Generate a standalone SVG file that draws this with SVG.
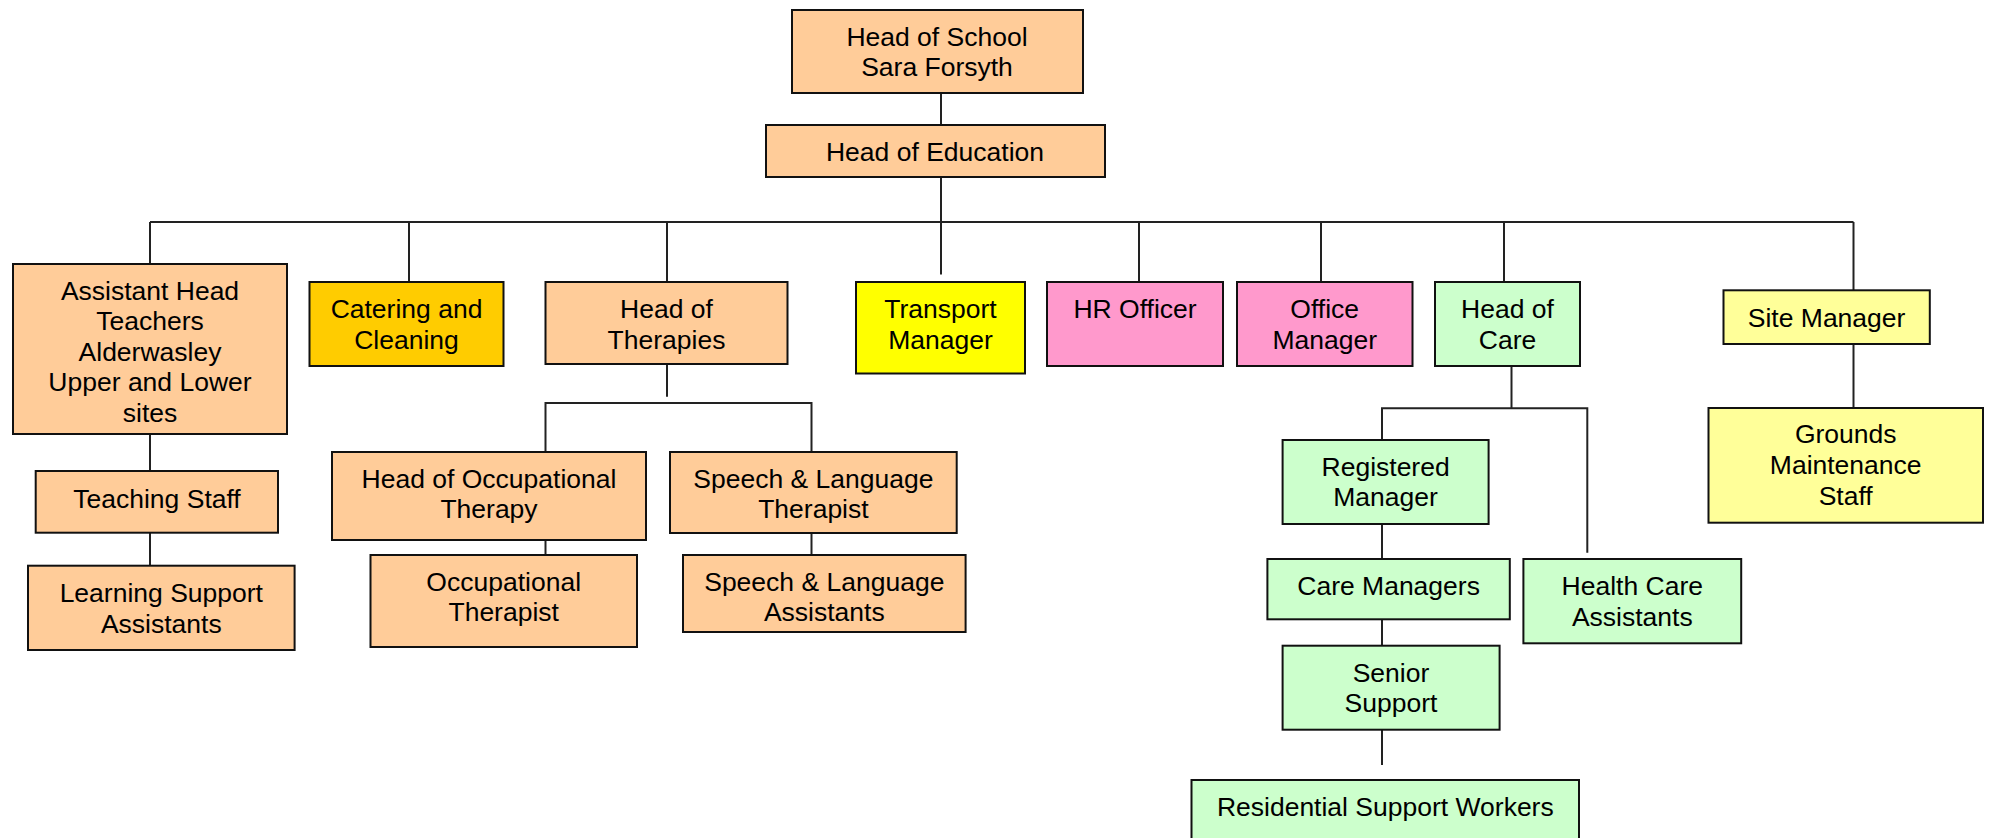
<svg xmlns="http://www.w3.org/2000/svg" width="1991" height="838" viewBox="0 0 1991 838">
  <style>
    .box { stroke: #111; stroke-width: 2; }
    .peach { fill: #FFCC99; }
    .gold { fill: #FFCC00; }
    .yellow { fill: #FFFF00; }
    .pink { fill: #FF99CC; }
    .green { fill: #CCFFCC; }
    .pale { fill: #FFFF99; }
    text { font-family: "Liberation Sans", Arial, sans-serif; font-size: 26.5px; fill: #000; text-anchor: middle; }
    .wire { stroke: #222; stroke-width: 2; fill: none; }
  </style>
  <rect width="1991" height="838" fill="#fff"/>

  <!-- reporting lines -->
  <g id="connectors" class="wire">
    <path d="M941 93 V125"/>
    <path d="M941 177 V274.5"/>
    <path d="M150 222 H1853.5"/>
    <path d="M150 222 V264"/>
    <path d="M409 222 V282"/>
    <path d="M667 222 V282"/>
    <path d="M1139 222 V282"/>
    <path d="M1321 222 V282"/>
    <path d="M1504 222 V282"/>
    <path d="M1853.5 222 V290"/>
    <path d="M150 434 V471"/>
    <path d="M150 532.5 V566"/>
    <path d="M667 364 V396.7"/>
    <path d="M545.5 452 V403 H811.5 V452"/>
    <path d="M545.5 540 V555"/>
    <path d="M811.5 533 V555"/>
    <path d="M1511.5 366 V408.3"/>
    <path d="M1382 440 V408.3 H1587.3 V552.7"/>
    <path d="M1382 524 V559"/>
    <path d="M1382 619.3 V645.7"/>
    <path d="M1382 729.7 V765"/>
    <path d="M1853.5 344 V408"/>
  </g>

  <g id="head-of-school">
    <rect class="box peach" x="792" y="10" width="291" height="83"/>
    <text x="937" y="45.5">Head of School</text>
    <text x="937" y="76">Sara Forsyth</text>
  </g>
  <g id="head-of-education">
    <rect class="box peach" x="766" y="125" width="339" height="52"/>
    <text x="935" y="160.5">Head of Education</text>
  </g>
  <g id="assistant-head-teachers">
    <rect class="box peach" x="13" y="264" width="274" height="170"/>
    <text x="150" y="299.5">Assistant Head</text>
    <text x="150" y="330">Teachers</text>
    <text x="150" y="360.5">Alderwasley</text>
    <text x="150" y="391">Upper and Lower</text>
    <text x="150" y="421.5">sites</text>
  </g>
  <g id="catering-cleaning">
    <rect class="box gold" x="309.5" y="282" width="194" height="84"/>
    <text x="406.5" y="318">Catering and</text>
    <text x="406.5" y="348.5">Cleaning</text>
  </g>
  <g id="head-of-therapies">
    <rect class="box peach" x="545.5" y="282" width="242" height="82"/>
    <text x="666.5" y="318">Head of</text>
    <text x="666.5" y="348.5">Therapies</text>
  </g>
  <g id="transport-manager">
    <rect class="box yellow" x="856" y="282" width="169" height="91.5"/>
    <text x="940.5" y="318">Transport</text>
    <text x="940.5" y="348.5">Manager</text>
  </g>
  <g id="hr-officer">
    <rect class="box pink" x="1047" y="282" width="176" height="84"/>
    <text x="1135" y="318">HR Officer</text>
  </g>
  <g id="office-manager">
    <rect class="box pink" x="1237" y="282" width="175.5" height="84"/>
    <text x="1324.7" y="318">Office</text>
    <text x="1324.7" y="348.5">Manager</text>
  </g>
  <g id="head-of-care">
    <rect class="box green" x="1435" y="282" width="145" height="84"/>
    <text x="1507.5" y="318">Head of</text>
    <text x="1507.5" y="348.5">Care</text>
  </g>
  <g id="site-manager">
    <rect class="box pale" x="1723.5" y="290.3" width="206.3" height="53.7"/>
    <text x="1826.6" y="326.5">Site Manager</text>
  </g>
  <g id="teaching-staff">
    <rect class="box peach" x="35.7" y="471" width="242.3" height="61.7"/>
    <text x="157" y="507.5">Teaching Staff</text>
  </g>
  <g id="learning-support-assistants">
    <rect class="box peach" x="28" y="565.7" width="266.6" height="84.3"/>
    <text x="161.3" y="602.3">Learning Support</text>
    <text x="161.3" y="632.5">Assistants</text>
  </g>
  <g id="head-of-occupational-therapy">
    <rect class="box peach" x="332" y="452" width="314" height="88"/>
    <text x="489" y="487.7">Head of Occupational</text>
    <text x="489" y="518.3">Therapy</text>
  </g>
  <g id="occupational-therapist">
    <rect class="box peach" x="370.5" y="555" width="266.5" height="92"/>
    <text x="503.7" y="590.7">Occupational</text>
    <text x="503.7" y="621.3">Therapist</text>
  </g>
  <g id="speech-language-therapist">
    <rect class="box peach" x="670" y="452" width="286.7" height="81"/>
    <text x="813.4" y="487.7">Speech &amp; Language</text>
    <text x="813.4" y="518.3">Therapist</text>
  </g>
  <g id="speech-language-assistants">
    <rect class="box peach" x="683" y="555" width="282.6" height="77"/>
    <text x="824.3" y="590.7">Speech &amp; Language</text>
    <text x="824.3" y="620.7">Assistants</text>
  </g>
  <g id="registered-manager">
    <rect class="box green" x="1282.6" y="440" width="206" height="84"/>
    <text x="1385.6" y="475.7">Registered</text>
    <text x="1385.6" y="505.7">Manager</text>
  </g>
  <g id="care-managers">
    <rect class="box green" x="1267.4" y="559" width="242.4" height="60.3"/>
    <text x="1388.6" y="595">Care Managers</text>
  </g>
  <g id="health-care-assistants">
    <rect class="box green" x="1523.4" y="559" width="217.8" height="84.3"/>
    <text x="1632.3" y="595">Health Care</text>
    <text x="1632.3" y="625.7">Assistants</text>
  </g>
  <g id="senior-support">
    <rect class="box green" x="1282.6" y="645.7" width="217" height="84"/>
    <text x="1391" y="681.7">Senior</text>
    <text x="1391" y="712.3">Support</text>
  </g>
  <g id="residential-support-workers">
    <rect class="box green" x="1191.5" y="780" width="387.5" height="70"/>
    <text x="1385.3" y="816">Residential Support Workers</text>
  </g>
  <g id="grounds-maintenance-staff">
    <rect class="box pale" x="1708.5" y="408" width="274.5" height="114.7"/>
    <text x="1845.7" y="443.3">Grounds</text>
    <text x="1845.7" y="474">Maintenance</text>
    <text x="1845.7" y="504.7">Staff</text>
  </g>
</svg>
